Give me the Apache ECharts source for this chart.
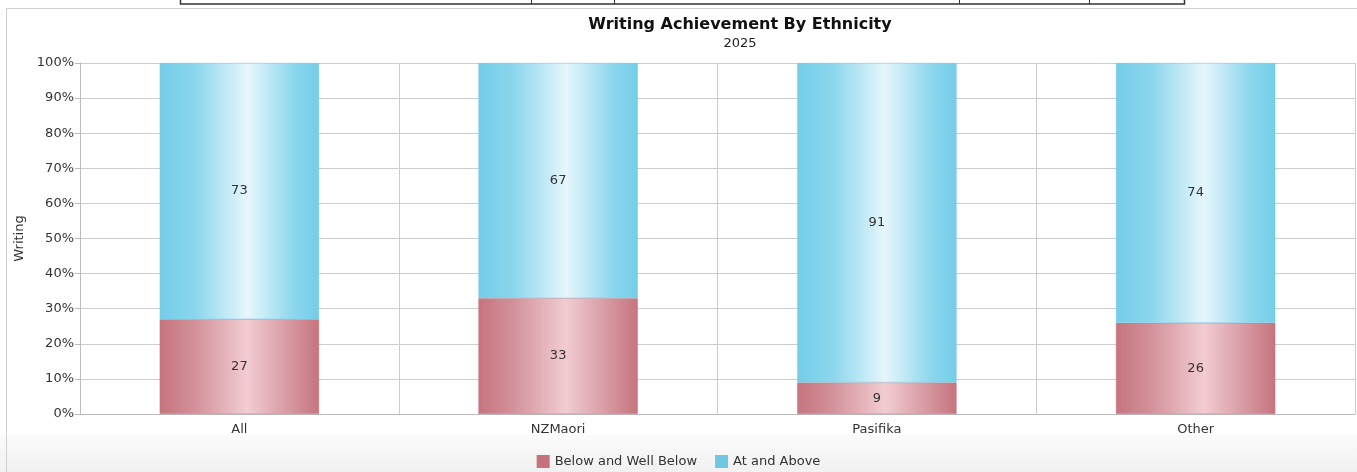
<!DOCTYPE html>
<html>
<head>
<meta charset="utf-8">
<script src="https://cdn.jsdelivr.net/npm/echarts@6/dist/echarts.min.js"></script>
<style>
  html, body { margin: 0; padding: 0; background: #fff; }
  #chart { width: 1357px; height: 472px; }
</style>
</head>
<body>
<div id="chart"></div>
<script>
var categories = ['All', 'NZMaori', 'Pasifika', 'Other'];
var belowValues = [27, 33, 9, 26];
var aboveValues = [73, 67, 91, 74];
var yTicks = [0, 10, 20, 30, 40, 50, 60, 70, 80, 90, 100];

function barGradient(edge, mid, light) {
    return new echarts.graphic.LinearGradient(0, 0, 1, 0, [
        { offset: 0, color: edge },
        { offset: 0.22, color: mid },
        { offset: 0.55, color: light },
        { offset: 0.85, color: mid },
        { offset: 1, color: edge }
    ]);
}

var myChart = echarts.init(document.getElementById('chart'));
var option = {
    backgroundColor: '#fff',
    animation: false,
    graphic: [
        { type: 'rect', left: 0, top: 435, shape: { width: 1357, height: 37 },
          style: { fill: new echarts.graphic.LinearGradient(0, 0, 0, 1, [
              { offset: 0, color: '#fbfbfb' }, { offset: 1, color: '#f1f1f1' }]) }, z: -10 },
        { type: 'line', shape: { x1: 6, y1: 8.5, x2: 1357, y2: 8.5 }, style: { stroke: '#d0d0d0', lineWidth: 1 } },
        { type: 'line', shape: { x1: 6.5, y1: 8, x2: 6.5, y2: 472 }, style: { stroke: '#d0d0d0', lineWidth: 1 } },
        { type: 'rect', shape: { x: 180.5, y: -5, width: 1004, height: 9 }, style: { fill: 'none', stroke: '#333', lineWidth: 1.5 } },
        { type: 'line', shape: { x1: 531.5, y1: 0, x2: 531.5, y2: 4 }, style: { stroke: '#333', lineWidth: 1 } },
        { type: 'line', shape: { x1: 614.5, y1: 0, x2: 614.5, y2: 4 }, style: { stroke: '#333', lineWidth: 1 } },
        { type: 'line', shape: { x1: 959.5, y1: 0, x2: 959.5, y2: 4 }, style: { stroke: '#333', lineWidth: 1 } },
        { type: 'line', shape: { x1: 1089.5, y1: 0, x2: 1089.5, y2: 4 }, style: { stroke: '#333', lineWidth: 1 } }
    ],
    title: {
        text: 'Writing Achievement By Ethnicity',
        subtext: '2025',
        left: 735,
        top: 12,
        textAlign: 'center',
        itemGap: 4,
        textStyle: { fontFamily: 'DejaVu Sans', fontSize: 16, fontWeight: 'bold', color: '#111' },
        subtextStyle: { fontFamily: 'DejaVu Sans', fontSize: 13, color: '#222' }
    },
    legend: {
        data: [
            { name: 'Below and Well Below', itemStyle: { color: '#c6727c', borderWidth: 0 } },
            { name: 'At and Above', itemStyle: { color: '#6ec8e2', borderWidth: 0 } }
        ],
        left: 'center',
        top: 450,
        itemWidth: 13,
        itemHeight: 13,
        itemGap: 18,
        itemTextGap: 6,
        icon: 'rect',
        textStyle: { fontFamily: 'DejaVu Sans', fontSize: 13, color: '#333' }
    },
    grid: { left: 80, right: 2, top: 63, bottom: 58, containLabel: false },
    xAxis: {
        type: 'category',
        data: categories,
        axisLine: { lineStyle: { color: '#bbb' } },
        axisTick: { show: false },
        splitLine: { show: true, lineStyle: { color: '#ccc' } },
        axisLabel: { fontFamily: 'DejaVu Sans', fontSize: 13, color: '#333', margin: 9 }
    },
    yAxis: {
        type: 'value',
        min: 0,
        max: 100,
        interval: 10,
        name: 'Writing',
        nameLocation: 'middle',
        nameRotate: 90,
        nameGap: 54,
        nameTextStyle: { fontFamily: 'DejaVu Sans', fontSize: 13, color: '#333' },
        axisLine: { show: true, lineStyle: { color: '#bbb' } },
        axisTick: { show: true, length: 5, lineStyle: { color: '#bbb' } },
        splitLine: { lineStyle: { color: '#ccc' } },
        axisLabel: {
            fontFamily: 'DejaVu Sans', fontSize: 13, color: '#333', margin: 6,
            formatter: function (v) { return yTicks.indexOf(v) >= 0 ? v + '%' : ''; }
        }
    },
    series: [
        {
            name: 'Below and Well Below',
            type: 'bar',
            stack: 'total',
            barWidth: '50%',
            data: belowValues,
            itemStyle: {
                color: barGradient('#c6747e', '#d3919a', '#f2ccd2'),
                borderColor: '#c77a83',
                borderWidth: 0.5
            },
            label: { show: true, position: 'inside', fontFamily: 'DejaVu Sans', fontSize: 13, color: '#333' }
        },
        {
            name: 'At and Above',
            type: 'bar',
            stack: 'total',
            barWidth: '50%',
            data: aboveValues,
            itemStyle: {
                color: barGradient('#74cde7', '#8ad6ed', '#e6f6fc'),
                borderColor: '#7fcde4',
                borderWidth: 0.5
            },
            label: { show: true, position: 'inside', fontFamily: 'DejaVu Sans', fontSize: 13, color: '#333' }
        }
    ],
    color: ['#c6727c', '#6ec8e2']
};
myChart.setOption(option);
</script>
</body>
</html>
